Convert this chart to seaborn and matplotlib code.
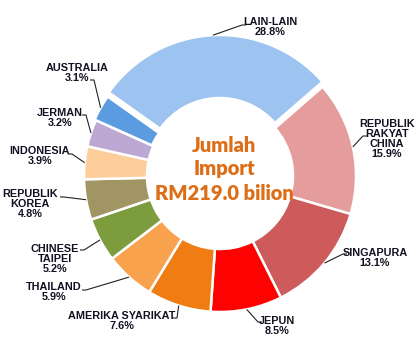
import numpy as np
import pandas as pd
import seaborn as sns
import matplotlib
matplotlib.use("Agg")
import matplotlib.pyplot as plt

# ---------------- data ----------------
countries = ["REPUBLIK\nRAKYAT\nCHINA", "SINGAPURA", "JEPUN", "AMERIKA SYARIKAT",
             "THAILAND", "CHINESE\nTAIPEI", "REPUBLIK\nKOREA", "INDONESIA",
             "JERMAN", "AUSTRALIA", "LAIN-LAIN"]
shares = [15.9, 13.1, 8.5, 7.6, 5.9, 5.2, 4.8, 3.9, 3.2, 3.1, 28.8]
total_import = 219.0
center_title = ["Jumlah", "Import"]

# ---------------- style ----------------
sns.set_theme(style="white")
plt.rcParams["font.family"] = ["Liberation Sans", "DejaVu Sans"]

colors = ["#E59C9C", "#CD5B5B", "#FE0202", "#F07D14", "#F9A24E", "#7D9C3E",
          "#A09563", "#FDCE9A", "#BDA8D4", "#5B9BE0", "#9DC3F0"]
explode = [0, 0, 0, 0, 0, 0, 0, 0, 0, 1.5, 5]

W, H = 420, 350
cx, cy = 220, 176          # pixel centre (top-left origin)
R, RW = 136, 63

# label centres (pixels, top-left origin) and leader-line start points
label_pos = [(387, 139), (375, 258), (277, 326), (122, 321), (54, 292),
             (55, 259), (30, 204), (40, 156), (60, 118), (77, 73), (270, 27)]
line_start = [(367, 136), (347, 254), (262, 322), (173, 318), (82, 290),
              (80, 250), (60, 197), (68, 154), (82, 115), (90, 80), (246, 25)]

fig = plt.figure(figsize=(W / 100, H / 100), dpi=100)
ax = fig.add_axes([0, 0, 1, 1])

df = pd.DataFrame({"negara": countries, "peratus": shares})

wedges, _ = ax.pie(df["peratus"], colors=colors, startangle=41, counterclock=False,
                   radius=R, center=(cx, H - cy), explode=explode, frame=True,
                   wedgeprops=dict(width=RW, edgecolor="white", linewidth=1.8))
ax.set_xlim(0, W)
ax.set_ylim(0, H)
ax.set_aspect("equal")
ax.axis("off")

for w, name, val, (lx, ly), (sx, sy) in zip(wedges, df["negara"], df["peratus"],
                                             label_pos, line_start):
    th = np.deg2rad((w.theta1 + w.theta2) / 2)
    ax_x = w.center[0] + w.r * np.cos(th)
    ax_y = w.center[1] + w.r * np.sin(th)
    sxd, syd = sx, H - sy
    dx = 4 if ax_x > sxd else -4
    ax.plot([sxd, sxd + dx, ax_x], [syd, syd, ax_y], color="#222222", lw=0.8,
            solid_capstyle="butt")
    ax.text(lx, H - ly, f"{name}\n{val:.1f}%", ha="center", va="center",
            fontsize=7.8, fontweight="bold", color="#111122", linespacing=1.0)

orange = "#DD6E17"
cfont = ["Lato", "DejaVu Sans"]
ax.text(224, H - 145, center_title[0], ha="center", va="center", fontsize=14.5,
        fontweight="heavy", color=orange, family=cfont)
ax.text(224, H - 169, center_title[1], ha="center", va="center", fontsize=14.5,
        fontweight="heavy", color=orange, family=cfont)
ax.text(224, H - 193, f"RM{total_import:.1f} bilion", ha="center", va="center",
        fontsize=14.5, fontweight="heavy", color=orange, family=cfont)

fig.savefig("out.png", dpi=100, facecolor="white")
